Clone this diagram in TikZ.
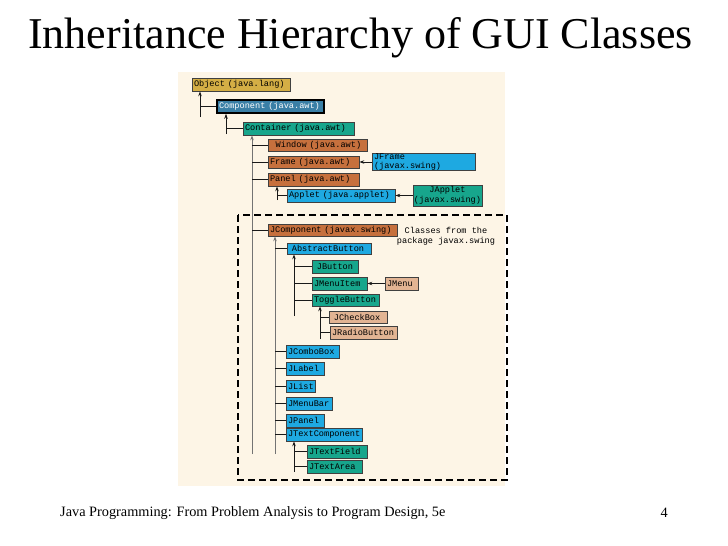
\documentclass[tikz,border=0pt]{standalone}
\usepackage{fontspec}
\setmainfont{Liberation Serif}
\setmonofont{Liberation Mono}
\usetikzlibrary{arrows.meta}
\definecolor{bgc}{HTML}{FDF5E6}
\definecolor{cgold}{HTML}{D4AE45}
\definecolor{csteel}{HTML}{3A7FA6}
\definecolor{cteal}{HTML}{17A68C}
\definecolor{corange}{HTML}{C6703D}
\definecolor{ccyan}{HTML}{1EA9E1}
\definecolor{csalmon}{HTML}{E2B493}
\tikzset{
 box/.style={draw=black!75, line width=0.7pt, inner sep=0pt, font=\ttfamily\fontsize{8.6}{9.5}\selectfont, align=left},
 gold/.style={box, fill=cgold},
 steel/.style={box, fill=csteel, text=white, draw=black, line width=1.5pt},
 teal/.style={box, fill=cteal},
 orange/.style={box, fill=corange},
 cyan/.style={box, fill=ccyan},
 salmon/.style={box, fill=csalmon},
 ln/.style={line width=1pt, black!90},
 up/.style={ln, -{Stealth[length=5pt,width=3.5pt]}},
}
\newcommand\bx[7]{%
 \pgfmathsetmacro\bw{#4-#2}\pgfmathsetmacro\bh{#5-#3}\pgfmathsetmacro\tw{#4-#2-4}%
 \node[#6, minimum width=\bw pt, minimum height=\bh pt, text width=\tw pt] (#1) at ({(#2+#4)/2},{(#3+#5)/2}) {#7};}
\begin{document}
\begin{tikzpicture}[x=1pt,y=-1pt]
\fill[white] (0,0) rectangle (728,546);
\useasboundingbox (0,0) rectangle (728,546);
\node[anchor=west, inner sep=0pt, font=\fontsize{44}{48}\selectfont] (title) at (28,38) {Inheritance Hierarchy of GUI Classes};
\node[anchor=west, inner sep=0pt, font=\fontsize{14.3}{16}\selectfont] (foot) at (60,513) {Java Programming: From Problem Analysis to Program Design, 5e};
\node[anchor=east, inner sep=0pt, font=\fontsize{14.3}{16}\selectfont] (pg) at (668,513) {4};
\fill[bgc] (178,72) rectangle (505,486);
\draw[line width=1.3pt, dash pattern=on 7pt off 4pt] (238,215) rectangle (507,480);
\bx{obj}{192}{78}{290}{91}{gold}{Object (java.lang)}
\bx{comp}{217}{100}{324}{113}{steel}{Component (java.awt)}
\bx{cont}{243}{122}{354}{135}{teal}{Container (java.awt)}
\bx{win}{268}{139}{367}{151}{orange}{\ \ Window (java.awt)}
\bx{frame}{268}{156}{359}{168}{orange}{Frame (java.awt)}
\bx{jframe}{372}{156}{475}{168}{cyan}{JFrame (javax.swing)}
\bx{panel}{268}{173}{359}{186}{orange}{Panel (java.awt)}
\bx{applet}{287}{189}{395}{202}{cyan}{Applet (java.applet)}
\node[teal, minimum width=69pt, minimum height=21pt, align=center] (japplet) at (447.5,195.5) {JApplet\\(javax.swing)};
\bx{jcomp}{268}{224}{397}{236}{orange}{JComponent (javax.swing)}
\node[font=\ttfamily\fontsize{8.6}{10}\selectfont, align=center] (cap) at (446,236) {Classes from the\\package javax.swing};
\bx{abut}{287}{243}{371}{254}{cyan}{\ AbstractButton}
\bx{jbut}{312}{260}{358}{273}{teal}{\ JButton}
\bx{jmi}{312}{277}{367}{290}{teal}{JMenuItem}
\bx{jmenu}{385}{277}{418}{290}{salmon}{JMenu}
\bx{tog}{312}{294}{379}{306}{teal}{ToggleButton}
\bx{jcb}{329}{311}{387}{323}{salmon}{\ JCheckBox}
\bx{jrb}{330}{326}{397}{339}{salmon}{JRadioButton}
\bx{jcombo}{286}{345}{339}{358}{cyan}{JComboBox}
\bx{jlabel}{286}{362}{324}{375}{cyan}{JLabel}
\bx{jlist}{286}{380}{315}{392}{cyan}{JList}
\bx{jmb}{286}{397}{332}{410}{cyan}{JMenuBar}
\bx{jpanel}{286}{414}{324}{427}{cyan}{JPanel}
\bx{jtc}{286}{428}{362}{441}{cyan}{JTextComponent}
\bx{jtf}{307}{445}{367}{458}{teal}{JTextField}
\bx{jta}{307}{460}{362}{473}{teal}{JTextArea}
\coordinate (t1) at (200,117);
\draw[up] (t1) -- (t1 |- obj.south);
\draw[ln] (t1 |- comp.west) -- (comp.west);
\coordinate (t2) at (226,134);
\draw[up] (t2) -- (t2 |- comp.south);
\draw[ln] (t2 |- cont.west) -- (cont.west);
\coordinate (t3) at (252,454);
\draw[up, black!55] (t3) -- (t3 |- cont.south);
\foreach \c in {win,frame,panel,jcomp} \draw[ln] (t3 |- \c.west) -- (\c.west);
\draw[up] (jframe.west) -- (frame.east);
\coordinate (t4) at (277,200);
\draw[up] (t4) -- (t4 |- panel.south);
\draw[ln] (t4 |- applet.west) -- (applet.west);
\draw[up] (japplet.west) -- (applet.east);
\coordinate (t5) at (275,454);
\draw[up, black!55] (t5) -- (t5 |- jcomp.south);
\foreach \c in {abut,jcombo,jlabel,jlist,jmb,jpanel,jtc} \draw[ln] (t5 |- \c.west) -- (\c.west);
\coordinate (t6) at (294,316);
\draw[up] (t6) -- (t6 |- abut.south);
\foreach \c in {jbut,jmi,tog} \draw[ln] (t6 |- \c.west) -- (\c.west);
\draw[up] (jmenu.west) -- (jmi.east);
\coordinate (t7) at (320,339);
\draw[up] (t7) -- (t7 |- tog.south);
\foreach \c in {jcb,jrb} \draw[ln] (t7 |- \c.west) -- (\c.west);
\coordinate (t8) at (294,472);
\draw[up] (t8) -- (t8 |- jtc.south);
\foreach \c in {jtf,jta} \draw[ln] (t8 |- \c.west) -- (\c.west);
\end{tikzpicture}
\end{document}
